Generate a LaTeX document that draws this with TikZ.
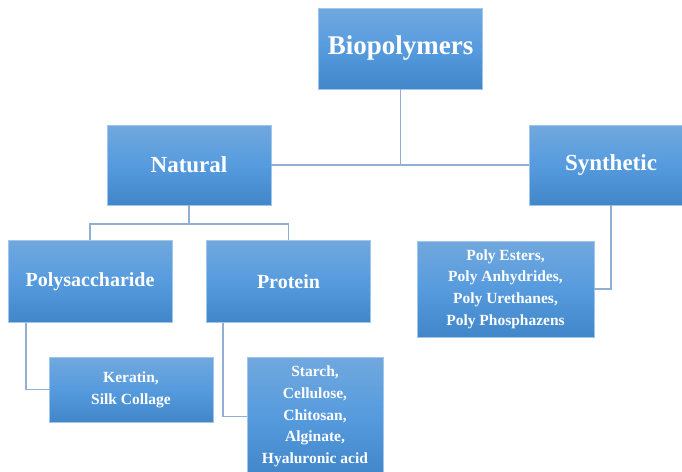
\documentclass[tikz,border=0pt]{standalone}
\usepackage{fontspec}
\setmainfont{Liberation Serif}
\usetikzlibrary{positioning}
\definecolor{boxtop}{RGB}{113,168,222}
\definecolor{boxmid}{RGB}{86,155,222}
\definecolor{boxbot}{RGB}{66,134,202}
\definecolor{boxrim}{RGB}{160,198,235}
\definecolor{linkcol}{RGB}{145,175,210}
\tikzset{
    %Define style for boxes
    kasten/.style={
           rectangle,
           top color=boxtop,
           bottom color=boxbot,
           middle color=boxmid,
           draw=boxrim, thin,
           inner sep=0pt,
           text=white,
           align=center,
           font=\bfseries},
    big/.style={kasten, minimum width=164pt, minimum height=81pt},
    small/.style={kasten, font=\bfseries\fontsize{15.5}{21.7}\selectfont},
    % Define connector style
    link/.style={
           draw=linkcol,
           line width=1.5pt}
}

\begin{document}
\begin{tikzpicture}[x=1pt,y=-1pt]
\useasboundingbox (0,0) rectangle (682,471);
\clip (0,0) rectangle (682,471);
%top box
\node[big, font=\bfseries\fontsize{27}{30}\selectfont] (bio) at (400.5,48.5) {Biopolymers};
%second row
\node[big, minimum height=80pt, font=\bfseries\fontsize{23}{26}\selectfont] (natural) at (189,165) {Natural};
\node[big, minimum height=80pt, font=\bfseries\fontsize{23}{26}\selectfont] (synthetic) at (611,165) {Synthetic};
%third row
\node[big, minimum height=82pt, font=\bfseries\fontsize{20}{24}\selectfont] (poly) at (90,281.5) {Polysaccharide};
\node[big, minimum height=82pt, font=\bfseries\fontsize{20}{24}\selectfont] (protein) at (288.5,281.5) {Protein};
\node[small, minimum width=177pt, minimum height=96pt] (esters) at (505.5,289)
  {Poly Esters,\\Poly Anhydrides,\\Poly Urethanes,\\Poly Phosphazens};
%leaves
\node[small, minimum width=164pt, minimum height=65pt] (keratin) at (131,389.5)
  {Keratin,\\Silk Collage};
\node[small, minimum width=136pt, minimum height=119pt] (starch) at (315,416.5)
  {Starch,\\Cellulose,\\Chitosan,\\Alginate,\\Hyaluronic acid};
%connectors
\draw[link] (bio.south) -- (bio.south |- natural.east);
\draw[link] (natural.east) -- (synthetic.west);
\draw[link] (natural.south) -- ++(0,19) coordinate (nsplit);
\draw[link] (poly.north) |- (nsplit) -| (protein.north);
\draw[link] ([xshift=18pt]poly.south west) |- (keratin.west);
\draw[link] ([xshift=16.5pt]protein.south west) |- (starch.west);
\draw[link] (synthetic.south) |- (esters.east);
\end{tikzpicture}
\end{document}
